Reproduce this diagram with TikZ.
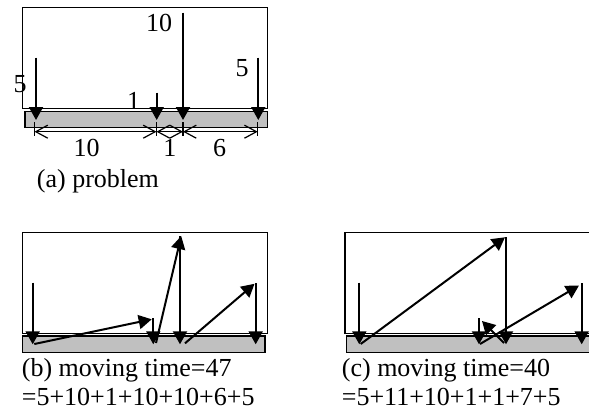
\documentclass[tikz,border=0pt]{standalone}
\usepackage{fontspec}
\setmainfont{Liberation Serif}
\usetikzlibrary{arrows.meta}
\definecolor{bargray}{RGB}{192,192,192}
\begin{document}
\begin{tikzpicture}[x=1pt,y=-1pt,
  frame/.style={draw=black,line width=1.4pt},
  bar/.style={draw=black,fill=bargray,line width=1.4pt},
  load/.style={line width=2pt,-{Triangle[length=13pt,width=14pt]}},
  dimline/.style={line width=1.2pt,{Straight Barb[length=12pt,width=13pt]}-{Straight Barb[length=12pt,width=13pt]}},
  tick/.style={line width=1.2pt},
  lbl/.style={font=\fontsize{26}{30}\selectfont,inner sep=0pt}
]
\useasboundingbox (0,0) rectangle (589,410);

% ---------- (a) problem ----------
\draw[frame] (22.7,7.3) rectangle (267.7,108.3);
\draw[bar] (25,111.7) rectangle (267.7,127.7);
\coordinate (a1t) at (36,57.7);   \coordinate (a1b) at (36,120);
\coordinate (a2t) at (156.7,92.7); \coordinate (a2b) at (156.7,120);
\coordinate (a3t) at (183,12.7);  \coordinate (a3b) at (183,120);
\coordinate (a4t) at (258.3,57.7); \coordinate (a4b) at (258.3,120);
\draw[load] (a1t) -- (a1b);
\draw[load] (a2t) -- (a2b);
\draw[load] (a3t) -- (a3b);
\draw[load] (a4t) -- (a4b);
\node[lbl] (la1) at (20,84) {5};
\node[lbl] (la2) at (133.5,101) {1};
\node[lbl] (la3) at (159,23.3) {10};
\node[lbl] (la4) at (242,68) {5};
% dimensions
\coordinate (d1) at (34.5,131.7);
\coordinate (d2) at (156.5,131.7);
\coordinate (d3) at (183,131.7);
\coordinate (d4) at (257.7,131.7);
\foreach \d in {d1,d2,d3,d4} \draw[tick] ([yshift=-4pt]\d) -- ([yshift=9.3pt]\d);
\draw[dimline] (d1) -- (d2);
\draw[dimline] (d2) -- (d3);
\draw[dimline] (d3) -- (d4);
\node[lbl] (ld1) at (86.7,148.3) {10};
\node[lbl] (ld2) at (169.8,148.3) {1};
\node[lbl] (ld3) at (219.7,148.3) {6};
\node[lbl,anchor=base west] (capa) at (36.7,187.5) {(a) problem};

% ---------- (b) ----------
\draw[frame] (22.7,232.7) rectangle (267.7,333.3);
\draw[bar] (22.7,336) rectangle (265,352.7);
\coordinate (b1t) at (32.7,282.7);  \coordinate (b1b) at (32.7,344.3);
\coordinate (b2s) at (34.3,344);    \coordinate (b2e) at (151.7,319.3);
\coordinate (b3t) at (153.3,318.3); \coordinate (b3b) at (153.3,344.3);
\coordinate (b4s) at (156,343);     \coordinate (b4e) at (181.2,236);
\coordinate (b5t) at (180,236);     \coordinate (b5b) at (180,344.3);
\coordinate (b6s) at (185,343.3);   \coordinate (b6e) at (254.5,283.8);
\coordinate (b7t) at (255.7,283.3); \coordinate (b7b) at (255.7,344.3);
\draw[load] (b1t) -- (b1b);
\draw[load] (b2s) -- (b2e);
\draw[load] (b3t) -- (b3b);
\draw[load] (b4s) -- (b4e);
\draw[load] (b5t) -- (b5b);
\draw[load] (b6s) -- (b6e);
\draw[load] (b7t) -- (b7b);
\node[lbl,anchor=base west] (capb1) at (21.7,376) {(b) moving time=47};
\node[lbl,anchor=base west] (capb2) at (21.7,405) {=5+10+1+10+10+6+5};

% ---------- (c) ----------
\draw[frame] (590,232.7) -- (345,232.7) -- (345,333.3) -- (590,333.3);
\fill[bargray] (346.7,336) rectangle (590,352.7);
\draw[frame] (590,336) -- (346.7,336) -- (346.7,352.7) -- (590,352.7);
\coordinate (c1t) at (359.3,282.7); \coordinate (c1b) at (359.3,344.3);
\coordinate (c2s) at (360.7,344);   \coordinate (c2e) at (505,237.3);
\coordinate (c3t) at (506,237.3);   \coordinate (c3b) at (506,344.3);
\coordinate (c4s) at (504,343);     \coordinate (c4e) at (482,321);
\coordinate (c5t) at (479,318.3);   \coordinate (c5b) at (479,344.3);
\coordinate (c6s) at (480,344);     \coordinate (c6e) at (579,285.5);
\coordinate (c7t) at (581.7,283);   \coordinate (c7b) at (581.7,344.3);
\draw[load] (c1t) -- (c1b);
\draw[load] (c2s) -- (c2e);
\draw[load] (c3t) -- (c3b);
\draw[load] (c4s) -- (c4e);
\draw[load] (c5t) -- (c5b);
\draw[load] (c6s) -- (c6e);
\draw[load] (c7t) -- (c7b);
\node[lbl,anchor=base west] (capc1) at (341.7,376) {(c) moving time=40};
\node[lbl,anchor=base west] (capc2) at (341.7,405) {=5+11+10+1+1+7+5};
\end{tikzpicture}
\end{document}
